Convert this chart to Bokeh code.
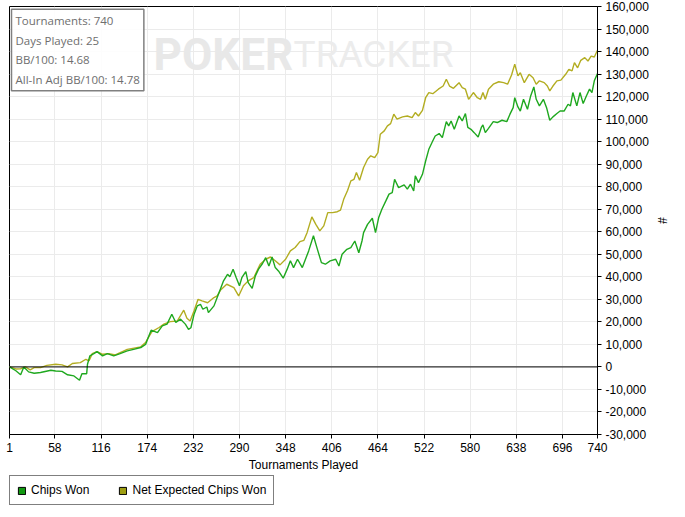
from bokeh.plotting import figure
from bokeh.layouts import column
from bokeh.models import (ColumnDataSource, FixedTicker, NumeralTickFormatter, Range1d,
                          Span, Label, Legend, LegendItem)
from bokeh.embed import file_html
from bokeh.resources import INLINE

# ---------------- data ----------------
chips_t = [1, 9, 15, 19, 25, 32, 40, 53, 59, 67, 74, 82, 89, 92, 98, 99, 102, 107, 111, 118,
           124, 132, 140, 149, 157, 166, 172, 174, 179, 187, 193, 199, 205, 210, 216, 222, 226,
           229, 233, 237, 241, 244, 249, 251, 258, 262, 266, 270, 275, 278, 282, 286, 290, 293,
           298, 301, 306, 310, 314, 319, 323, 327, 331, 335, 339, 345, 350, 354, 358, 363, 369,
           373, 377, 383, 388, 393, 398, 404, 411, 415, 419, 425, 430, 435, 440, 444, 446, 451,
           457, 461, 465, 469, 474, 478, 482, 485, 490, 497, 501, 505, 509, 511, 515, 520, 524,
           528, 532, 536, 541, 545, 550, 553, 556, 560, 566, 570, 574, 577, 581, 585, 590, 594,
           596, 599, 603, 609, 614, 620, 626, 630, 634, 636, 640, 643, 647, 652, 656, 660, 663,
           667, 672, 676, 680, 684, 689, 693, 698, 703, 706, 709, 714, 718, 722, 726, 730, 733,
           736, 740]
chips_won = [0, -1700, -3500, 0, -2200, -2800, -2500, -1500, -1800, -2000, -3500, -4000, -5900,
             -3000, -3000, 1200, 4900, 5900, 6800, 4900, 5900, 4900, 5900, 7100, 7800, 8600, 10000,
             11800, 16300, 15200, 18200, 19000, 23400, 19700, 21200, 19000, 16700, 17400, 23400,
             27100, 27800, 25600, 26600, 24100, 27100, 30800, 34500, 38200, 41100, 40000, 43400,
             39600, 36000, 39600, 42300, 37400, 34900, 40400, 43400, 45900, 48500, 44800, 48800,
             44100, 42600, 39400, 43400, 47100, 44100, 47800, 44100, 47800, 51500, 58200, 52200,
             46300, 45600, 47100, 47800, 44800, 50000, 52200, 53000, 55900, 50700, 55900, 59600,
             63300, 66000, 59600, 66300, 70000, 73700, 76700, 77400, 83300, 79600, 80800, 78900,
             81100, 78100, 84800, 81800, 85500, 91400, 96600, 99600, 102500, 103600, 101800,
             108900, 107000, 109200, 105500, 111400, 109200, 112500, 106300, 105500, 104000,
             102100, 106300, 107400, 104000, 105900, 108900, 108500, 109500, 108900, 112200,
             115100, 119500, 115400, 113600, 118800, 114400, 120300, 124300, 118800, 115900,
             118800, 115100, 109500, 111000, 112500, 113600, 113600, 116600, 115900, 121800,
             115900, 121800, 116900, 120300, 123300, 121800, 127000, 130200]

ev_t = [1, 9, 15, 21, 27, 32, 40, 48, 59, 67, 74, 80, 90, 97, 101, 105, 111, 118, 126, 134, 149,
        166, 172, 176, 180, 189, 195, 203, 212, 220, 224, 228, 233, 238, 243, 250, 258, 262, 266,
        274, 283, 289, 295, 301, 308, 316, 323, 329, 335, 341, 348, 354, 360, 366, 371, 375, 381,
        386, 391, 396, 401, 407, 413, 417, 421, 426, 430, 434, 437, 441, 446, 451, 455, 460, 464,
        467, 472, 476, 480, 484, 488, 495, 501, 507, 511, 515, 520, 524, 528, 533, 540, 546, 550,
        554, 559, 566, 570, 574, 578, 584, 589, 593, 596, 599, 603, 609, 616, 622, 627, 632, 636,
        640, 643, 648, 654, 659, 663, 667, 673, 677, 680, 684, 689, 694, 700, 704, 708, 711, 715,
        719, 724, 728, 732, 736, 740]
net_expected = [0, -900, -800, 0, -1300, -300, -300, 700, 1200, 900, 0, 1500, 1900, 3400, 2700,
                5900, 6800, 5600, 5900, 5300, 7800, 8900, 10800, 13300, 15700, 17500, 19000, 20100,
                20400, 25200, 21600, 20400, 24900, 30000, 29300, 28500, 30800, 31500, 34000,
                36700, 35200, 31500, 36000, 38200, 39600, 45600, 47800, 48800, 47100, 45300,
                47800, 51500, 53000, 55600, 56200, 59600, 66600, 63300, 60400, 62600, 68500,
                68500, 68900, 69600, 74400, 78400, 82600, 83300, 86300, 82900, 88500, 92200,
                93700, 92900, 95100, 103300, 104800, 107000, 108000, 112200, 110000, 111000,
                111400, 110700, 112900, 111400, 113900, 119500, 121800, 121300, 123300, 124700,
                127700, 124700, 123700, 126200, 124000, 123300, 118800, 121800, 119500, 118800,
                121800, 118800, 123300, 125500, 126600, 126200, 125500, 129600, 134400, 129200,
                130600, 126200, 129900, 128400, 125500, 127000, 126200, 124700, 122500, 124700,
                127000, 127300, 129900, 132100, 131400, 135100, 132800, 136100, 137300, 135800,
                138000, 137600, 140600]

x_ticks = [1, 58, 116, 174, 232, 290, 348, 406, 464, 522, 580, 638, 696, 740]
y_ticks = [-30000, -20000, -10000, 0, 10000, 20000, 30000, 40000, 50000, 60000, 70000, 80000,
           90000, 100000, 110000, 120000, 130000, 140000, 150000, 160000]
info_lines = ["Tournaments: 740", "Days Played: 25", "BB/100: 14.68", "All-In Adj BB/100: 14.78"]
series_names = ["Chips Won", "Net Expected Chips Won"]

GREEN = "#1fa81f"
OLIVE = "#b3ad22"
FONT = "Liberation Sans"

p = figure(frame_width=588, frame_height=428,
           x_range=Range1d(1, 740), y_range=Range1d(-30000, 160000),
           y_axis_location="right", toolbar_location=None, output_backend="svg",
           min_border_left=9, min_border_top=6, min_border_right=2, min_border_bottom=38,
           background_fill_color="white", border_fill_color="white")
p.outline_line_color = "black"
p.outline_line_width = 1

# grid
p.xgrid.ticker = FixedTicker(ticks=x_ticks)
p.ygrid.ticker = FixedTicker(ticks=y_ticks)
for g in (p.xgrid, p.ygrid):
    g.grid_line_color = "#ebebeb"
    g.grid_line_width = 1

# axes
xa = p.xaxis[0]
xa.ticker = FixedTicker(ticks=x_ticks)
xa.axis_label = "Tournaments Played"
ya = p.yaxis[0]
ya.ticker = FixedTicker(ticks=y_ticks)
ya.formatter = NumeralTickFormatter(format="0,0")
ya.axis_label = "#"
for ax in (xa, ya):
    ax.axis_line_color = "black"
    ax.major_tick_line_color = "black"
    ax.major_tick_out = 4
    ax.major_tick_in = 0
    ax.minor_tick_line_color = None
    ax.major_label_text_font = FONT
    ax.major_label_text_font_size = "12px"
    ax.major_label_text_color = "black"
    ax.axis_label_text_font = FONT
    ax.axis_label_text_font_size = "12px"
    ax.axis_label_text_font_style = "normal"
    ax.axis_label_text_color = "black"
xa.major_label_standoff = 4
xa.axis_label_standoff = 3
ya.major_label_standoff = 4
ya.axis_label_standoff = 3

# watermark
p.add_layout(Label(x=182, y=138600, text="POKER", text_font="Roboto", text_font_style="bold",
                   text_font_size="44px", text_color="#e8e8e8", text_baseline="middle",
                   level="underlay"))
p.add_layout(Label(x=358, y=138600, text="TRACKER", text_font="Roboto",
                   text_font_size="37px", text_color="#ececec", text_baseline="middle",
                   level="underlay"))

# zero line
p.add_layout(Span(location=0, dimension="width", line_color="black", line_width=1))

# series
src_c = ColumnDataSource(dict(t=chips_t, v=chips_won))
src_e = ColumnDataSource(dict(t=ev_t, v=net_expected))
p.line("t", "v", source=src_e, line_color=OLIVE, line_width=1.4)
p.line("t", "v", source=src_c, line_color=GREEN, line_width=1.4)

# info box
p.add_layout(Label(x=2, y=158800, x_units="screen", text="\n".join(info_lines),
                   anchor="top_left", text_font="Open Sans", text_font_size="11.5px",
                   text_color="#6e6e6e", text_line_height=1.3, padding=4,
                   border_line_color="#808080", border_line_width=1.5,
                   background_fill_color="white", background_fill_alpha=0.9))

# legend strip below the chart (separate figure holding only the legend)
lf = figure(width=600, height=36, x_range=Range1d(0, 1), y_range=Range1d(0, 1),
            toolbar_location=None, output_backend="svg",
            min_border_left=0, min_border_right=0, min_border_top=0, min_border_bottom=0)
lf.axis.visible = False
lf.grid.visible = False
lf.outline_line_color = None
# swatch renderers: one box placed outside the strip's visible range, only the legend shows them
sw_c = lf.quad(left=[-5], right=[-4], bottom=[-5], top=[-4], fill_color="#119911",
               line_color="black", line_width=1)
sw_e = lf.quad(left=[-5], right=[-4], bottom=[-5], top=[-4], fill_color="#9e9e12",
               line_color="black", line_width=1)
legend = Legend(items=[LegendItem(label=series_names[0], renderers=[sw_c]),
                       LegendItem(label=series_names[1], renderers=[sw_e])],
                orientation="horizontal", location=(0, 5),
                glyph_width=9, glyph_height=9, label_standoff=5, spacing=29,
                padding=7, margin=0, label_height=14,
                label_text_font=FONT, label_text_font_size="12px", label_text_color="black",
                border_line_color="black", border_line_width=1, background_fill_color="white",
                background_fill_alpha=1)
lf.add_layout(legend, "center")

layout = column(p, lf, spacing=0)
open("out.html", "w").write(file_html(layout, INLINE))
